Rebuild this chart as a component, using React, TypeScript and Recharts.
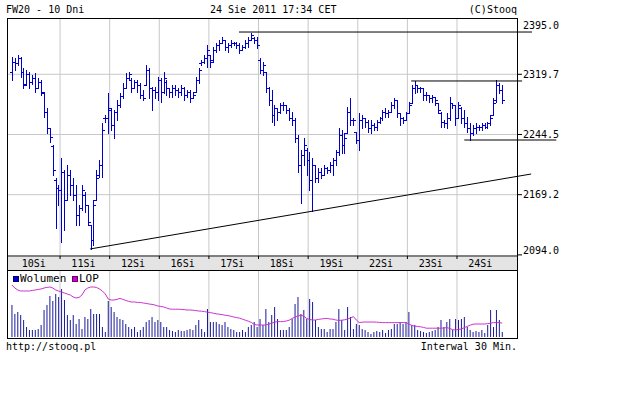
import React from 'react';
import { ComposedChart, Bar, Line, XAxis, YAxis, CartesianGrid, ReferenceLine } from 'recharts';

// FW20, 10 sessions, 30 min bars (17 per session, last session 16)
const dayLabels = ['10Si', '11Si', '12Si', '16Si', '17Si', '18Si', '19Si', '22Si', '23Si', '24Si'];
const BARS_PER_DAY = 17;

const highs = [
  2341, 2340, 2344, 2341, 2328, 2325, 2323, 2319, 2321, 2315, 2313, 2298, 2278, 2253, 2231, 2190, 2181,
  2215, 2200, 2206, 2200, 2190, 2181, 2156, 2181, 2173, 2156, 2131, 2163, 2200, 2213, 2259, 2269, 2296,
  2278, 2275, 2288, 2296, 2309, 2321, 2323, 2315, 2313, 2313, 2309, 2300, 2331, 2328, 2304, 2304, 2316,
  2315, 2323, 2313, 2303, 2306, 2306, 2303, 2306, 2304, 2300, 2300, 2298, 2316, 2328, 2338, 2344, 2356,
  2344, 2354, 2359, 2363, 2366, 2363, 2359, 2363, 2360, 2360, 2359, 2356, 2363, 2366, 2371, 2366, 2366,
  2340, 2335, 2323, 2304, 2300, 2281, 2278, 2284, 2285, 2281, 2278, 2273, 2265, 2244, 2225, 2240, 2228,
  2223, 2215, 2206, 2203, 2203, 2206, 2204, 2210, 2215, 2225, 2253, 2250, 2246, 2279, 2290, 2265, 2248,
  2271, 2269, 2265, 2263, 2263, 2259, 2263, 2266, 2275, 2278, 2275, 2285, 2290, 2288, 2271, 2266, 2273,
  2285, 2306, 2311, 2306, 2304, 2303, 2298, 2294, 2294, 2291, 2284, 2273, 2263, 2271, 2291, 2284, 2281,
  2285, 2279, 2275, 2266, 2259, 2256, 2259, 2256, 2259, 2259, 2260, 2269, 2290, 2313, 2309, 2306,
];
const lows = [
  2312, 2325, 2331, 2316, 2303, 2306, 2303, 2308, 2298, 2303, 2294, 2266, 2246, 2235, 2194, 2128, 2156,
  2110, 2125, 2163, 2169, 2163, 2131, 2131, 2150, 2148, 2131, 2101, 2106, 2163, 2191, 2191, 2260, 2246,
  2250, 2240, 2263, 2279, 2290, 2303, 2313, 2298, 2303, 2298, 2290, 2288, 2306, 2290, 2275, 2290, 2288,
  2285, 2296, 2294, 2291, 2291, 2294, 2291, 2294, 2288, 2291, 2285, 2290, 2298, 2309, 2331, 2334, 2329,
  2329, 2335, 2348, 2350, 2359, 2350, 2348, 2354, 2356, 2353, 2346, 2350, 2353, 2354, 2363, 2359, 2353,
  2321, 2319, 2298, 2281, 2260, 2256, 2263, 2271, 2275, 2271, 2263, 2256, 2235, 2198, 2159, 2206, 2194,
  2175, 2149, 2185, 2185, 2190, 2194, 2196, 2198, 2194, 2206, 2219, 2221, 2221, 2246, 2256, 2256, 2234,
  2225, 2253, 2254, 2248, 2246, 2250, 2250, 2259, 2263, 2266, 2266, 2273, 2278, 2266, 2256, 2259, 2263,
  2271, 2284, 2296, 2298, 2298, 2288, 2288, 2285, 2285, 2281, 2271, 2254, 2254, 2253, 2263, 2278, 2256,
  2265, 2259, 2254, 2248, 2238, 2244, 2246, 2250, 2250, 2253, 2253, 2256, 2269, 2285, 2296, 2284,
];
const opens = [
  2322, 2335, 2334, 2340, 2323, 2307, 2320, 2310, 2315, 2303, 2310, 2296, 2273, 2253, 2230, 2188, 2178,
  2175, 2198, 2163, 2194, 2181, 2169, 2144, 2153, 2169, 2156, 2131, 2112, 2163, 2194, 2206, 2265, 2265,
  2275, 2256, 2273, 2281, 2293, 2303, 2315, 2313, 2303, 2310, 2306, 2294, 2306, 2325, 2303, 2300, 2298,
  2313, 2298, 2310, 2303, 2298, 2303, 2300, 2298, 2303, 2294, 2298, 2290, 2298, 2313, 2334, 2335, 2340,
  2344, 2338, 2350, 2356, 2359, 2363, 2354, 2356, 2359, 2359, 2356, 2350, 2354, 2359, 2363, 2365, 2363,
  2338, 2325, 2323, 2303, 2288, 2269, 2278, 2273, 2281, 2281, 2275, 2265, 2263, 2240, 2206, 2219, 2225,
  2213, 2188, 2206, 2190, 2198, 2194, 2203, 2200, 2206, 2213, 2223, 2244, 2231, 2246, 2273, 2263, 2248,
  2238, 2263, 2265, 2260, 2253, 2256, 2254, 2260, 2265, 2273, 2271, 2273, 2281, 2288, 2271, 2265, 2263,
  2271, 2284, 2303, 2306, 2303, 2303, 2294, 2294, 2290, 2291, 2284, 2271, 2260, 2259, 2265, 2284, 2281,
  2265, 2278, 2265, 2259, 2253, 2246, 2253, 2254, 2254, 2256, 2254, 2259, 2269, 2288, 2306, 2300,
];
const closes = [
  2335, 2334, 2340, 2323, 2306, 2320, 2310, 2315, 2303, 2310, 2298, 2273, 2253, 2241, 2200, 2178, 2175,
  2198, 2163, 2194, 2181, 2169, 2144, 2153, 2175, 2156, 2135, 2112, 2156, 2190, 2206, 2250, 2265, 2278,
  2256, 2273, 2281, 2293, 2303, 2315, 2320, 2303, 2310, 2306, 2294, 2290, 2325, 2303, 2300, 2298, 2313,
  2298, 2315, 2303, 2298, 2303, 2300, 2298, 2303, 2294, 2298, 2290, 2294, 2313, 2325, 2335, 2340, 2350,
  2335, 2350, 2356, 2359, 2363, 2354, 2356, 2359, 2359, 2356, 2350, 2354, 2359, 2363, 2369, 2363, 2356,
  2325, 2331, 2303, 2288, 2269, 2278, 2273, 2281, 2281, 2275, 2265, 2263, 2240, 2206, 2219, 2231, 2213,
  2188, 2206, 2190, 2198, 2194, 2203, 2200, 2206, 2213, 2223, 2244, 2231, 2240, 2273, 2263, 2263, 2238,
  2263, 2265, 2260, 2253, 2256, 2254, 2260, 2265, 2273, 2271, 2273, 2281, 2288, 2271, 2265, 2263, 2271,
  2281, 2303, 2306, 2303, 2303, 2294, 2294, 2290, 2291, 2288, 2275, 2260, 2259, 2265, 2284, 2281, 2265,
  2281, 2265, 2259, 2253, 2246, 2253, 2254, 2254, 2256, 2254, 2259, 2265, 2284, 2306, 2300, 2288,
];
// volume in hundreds of contracts
const volumes = [
  32, 23, 25, 22, 17, 10, 7, 7, 7, 8, 12, 27, 32, 41, 36, 43, 40,
  48, 37, 22, 17, 22, 13, 18, 8, 20, 18, 28, 23, 23, 23, 10, 5, 36,
  30, 25, 20, 18, 17, 13, 10, 8, 10, 5, 7, 10, 15, 17, 20, 15, 17,
  15, 10, 10, 7, 6, 5, 7, 6, 6, 7, 8, 7, 12, 17, 8, 5, 28,
  15, 15, 15, 13, 12, 15, 10, 8, 7, 5, 5, 7, 5, 10, 12, 15, 10,
  18, 12, 28, 15, 22, 30, 18, 7, 7, 7, 10, 18, 33, 40, 23, 27, 18,
  38, 35, 17, 10, 8, 8, 5, 8, 8, 15, 28, 17, 7, 30, 20, 8, 13,
  12, 8, 7, 5, 3, 5, 6, 5, 7, 4, 7, 8, 13, 13, 15, 13, 15,
  25, 12, 12, 7, 6, 5, 4, 5, 6, 7, 10, 17, 10, 15, 18, 7, 18,
  17, 18, 20, 10, 7, 5, 6, 5, 7, 4, 12, 27, 10, 27, 17, 5,
];
// open interest (LOP), thousands
const lopValues = [
  126.0, 124.5, 123.5, 123.0, 123.0, 123.0, 123.0, 123.3, 123.5, 123.8, 124.0, 124.5, 124.8, 125.0, 124.5, 123.5, 123.0,
  122.5, 122.0, 121.5, 121.0, 120.0, 119.5, 119.8, 121.0, 123.5, 124.5, 125.0, 125.0, 124.8, 124.0, 123.0, 121.5, 119.0,
  118.5, 118.5, 118.8, 119.3, 118.8, 118.3, 117.8, 117.5, 117.5, 117.3, 117.3, 117.0, 116.8, 116.5, 116.3, 116.0, 115.5,
  115.3, 115.0, 114.5, 114.0, 113.9, 113.9, 113.9, 113.8, 113.7, 113.5, 113.5, 113.4, 113.2, 113.0, 112.9, 112.7, 112.4,
  112.2, 111.9, 111.6, 111.4, 111.2, 110.9, 110.7, 110.4, 110.0, 109.7, 109.4, 108.9, 108.4, 107.9, 107.3, 106.3, 106.0,
  106.0, 106.0, 106.0, 106.4, 106.9, 107.4, 107.7, 107.7, 107.7, 108.0, 108.4, 109.3, 109.9, 110.5, 110.9, 110.4, 109.3,
  108.8, 108.5, 108.5, 108.8, 109.0, 109.2, 109.3, 109.0, 108.9, 108.5, 108.3, 108.4, 108.6, 109.0, 109.5, 110.2, 108.5,
  107.2, 107.4, 107.5, 107.5, 107.5, 107.5, 107.4, 107.3, 107.2, 107.2, 107.2, 107.2, 107.2, 107.2, 107.2, 107.2, 107.2,
  106.5, 105.8, 105.4, 105.3, 105.1, 104.8, 104.4, 104.4, 104.4, 104.4, 104.4, 104.4, 104.5, 104.7, 104.3, 103.7, 103.5,
  103.8, 104.0, 104.7, 105.3, 105.9, 106.4, 106.5, 106.5, 106.5, 106.5, 106.7, 106.9, 107.2, 107.2, 107.2, 107.0,
];

const priceTicks = [2094, 2169.25, 2244.5, 2319.75, 2395];
const priceGrid = [2169.25, 2244.5, 2319.75];
// drawn analysis lines, bar index / price
const trendLines = [
  { x1: 77.8, y1: 2372.6, x2: 178.2, y2: 2372.6 },
  { x1: 136.8, y1: 2311.4, x2: 174.8, y2: 2311.4 },
  { x1: 155, y1: 2237.6, x2: 186.5, y2: 2237.6 },
  { x1: 26.8, y1: 2101.4, x2: 177.9, y2: 2195.1 },
];

const data = highs.map((h, i) => ({
  i,
  high: h,
  low: lows[i],
  open: opens[i],
  close: closes[i],
  vol: volumes[i],
  lop: lopValues[i],
}));

const X_DOMAIN: [number, number] = [-1.68, 173.4];
const boundaries = dayLabels.slice(1).map((_, d) => (d + 1) * BARS_PER_DAY - 0.5);
const labelTicks = dayLabels.map((_, d) => d * BARS_PER_DAY + 7.5);
const xTicks = [...labelTicks, ...boundaries].sort((a, b) => a - b);

const MONO = "'DejaVu Sans Mono', monospace";
const BAR_BLUE = '#0000cc';
const GRID = '#c8c8c8';

const OhlcBar = (props: any) => {
  const { x, y, width, height } = props;
  const p = props.payload || props;
  const top = Math.min(y, y + height);
  const h = Math.abs(height);
  const span = p.high - p.low;
  const py = (v: number) => Math.round(span > 0 ? top + ((p.high - v) / span) * h : top) + 0.5;
  const cx = Math.round(x + width / 2) + 0.5;
  return (
    <g stroke={BAR_BLUE} strokeWidth={1}>
      <line x1={cx} x2={cx} y1={Math.round(top)} y2={Math.round(top + h) + 1} />
      <line x1={cx - 2.5} x2={cx} y1={py(p.open)} y2={py(p.open)} />
      <line x1={cx} x2={cx + 2.5} y1={py(p.close)} y2={py(p.close)} />
    </g>
  );
};

const DayTick = (props: any) => {
  const { x, y, payload } = props;
  const v = payload.value;
  if (boundaries.includes(v)) {
    return <line x1={x} x2={x} y1={y} y2={y + 3} stroke="#000" />;
  }
  const d = Math.round((v - 7.5) / BARS_PER_DAY);
  return (
    <text x={x} y={y + 7.5} textAnchor="middle" dominantBaseline="central" fontSize={10} fontFamily={MONO} fill="#000">
      {dayLabels[d]}
    </text>
  );
};

const PriceTick = (props: any) => {
  const { x, y, payload } = props;
  const v = payload.value;
  // top and bottom labels are pushed inside the frame
  const dy = v === 2395 ? 11 : v === 2094 ? -4 : 0;
  return (
    <text x={x} y={y + dy} textAnchor="start" dominantBaseline="central" fontSize={10} fontFamily={MONO} fill="#000">
      {(Math.floor(v * 10) / 10).toFixed(1)}
    </text>
  );
};

const txt = (extra: React.CSSProperties): React.CSSProperties => ({
  position: 'absolute',
  fontFamily: MONO,
  fontSize: 10,
  lineHeight: '12px',
  color: '#000',
  whiteSpace: 'pre',
  ...extra,
});

export default function App() {
  return (
    <div style={{ position: 'absolute', left: 0, top: 0, width: 640, height: 400, background: '#fff', overflow: 'hidden' }}>
      {/* grey date band */}
      <div style={{ position: 'absolute', left: 8, top: 257, width: 509, height: 13, background: '#e4e4e4' }} />

      {/* price chart */}
      <div style={{ position: 'absolute', left: 0, top: 0 }}>
        <ComposedChart width={640} height={272} data={data} margin={{ top: 14.1, right: 62, bottom: 2, left: 7 }}>
          <CartesianGrid stroke={GRID} horizontalValues={priceGrid} verticalValues={boundaries} />
          <XAxis
            dataKey="i"
            type="number"
            domain={X_DOMAIN}
            ticks={xTicks}
            interval={0}
            height={14}
            tickLine={false}
            tickSize={0}
            tickMargin={0}
            axisLine={{ stroke: '#000' }}
            tick={DayTick}
          />
          <YAxis
            orientation="right"
            type="number"
            domain={[2092.6, 2395]}
            ticks={priceTicks}
            interval={0}
            width={60}
            axisLine={false}
            tickLine={{ stroke: '#000' }}
            tickSize={4}
            tickMargin={1}
            tick={PriceTick}
          />
          <Bar dataKey={(d: any) => [d.low, d.high]} barSize={3} shape={OhlcBar} isAnimationActive={false} />
          {trendLines.map((t, k) => (
            <ReferenceLine
              key={k}
              segment={[{ x: t.x1, y: t.y1 }, { x: t.x2, y: t.y2 }]}
              stroke="#000"
              strokeWidth={1}
              ifOverflow="visible"
            />
          ))}
        </ComposedChart>
      </div>

      {/* white strip above the frame */}
      <div style={{ position: 'absolute', left: 0, top: 0, width: 530, height: 18, background: '#fff' }} />

      {/* volume + LOP panel */}
      <div style={{ position: 'absolute', left: 0, top: 262 }}>
        <ComposedChart width={640} height={80} data={data} margin={{ top: 9, right: 122, bottom: 5, left: 7 }}>
          <CartesianGrid stroke={GRID} horizontal={false} verticalValues={boundaries} />
          <XAxis dataKey="i" type="number" domain={X_DOMAIN} hide />
          <YAxis yAxisId="v" domain={[0, 66]} hide />
          <YAxis yAxisId="lop" domain={[100, 133]} hide />
          <Bar yAxisId="v" dataKey="vol" barSize={1} fill="#1a1a9a" isAnimationActive={false} />
          <Line yAxisId="lop" dataKey="lop" type="linear" stroke="#cc33cc" strokeWidth={1} dot={false} isAnimationActive={false} />
        </ComposedChart>
      </div>

      {/* frames */}
      <div style={{ position: 'absolute', left: 7, top: 18, width: 511, height: 253, border: '1px solid #000', boxSizing: 'border-box' }} />
      <div style={{ position: 'absolute', left: 7, top: 270, width: 511, height: 69, border: '1px solid #000', boxSizing: 'border-box' }} />

      {/* legend */}
      <div style={{ position: 'absolute', left: 13, top: 276, width: 6, height: 6, background: '#0000cc', border: '1px solid #000066', boxSizing: 'border-box' }} />
      <div style={txt({ left: 20, top: 273, fontSize: 11 })}>Wolumen</div>
      <div style={{ position: 'absolute', left: 72, top: 276, width: 6, height: 6, background: '#cc00cc', border: '1px solid #660066', boxSizing: 'border-box' }} />
      <div style={txt({ left: 79, top: 273, fontSize: 11 })}>LOP</div>

      {/* header / footer */}
      <div style={txt({ left: 6, top: 4 })}>FW20 - 10 Dni</div>
      <div style={txt({ left: 210, top: 4 })}>24 Sie 2011 17:34 CET</div>
      <div style={txt({ left: 417, top: 4, width: 100, textAlign: 'right' })}>(C)Stooq</div>
      <div style={txt({ left: 6, top: 341 })}>http://stooq.pl</div>
      <div style={txt({ left: 317, top: 341, width: 200, textAlign: 'right' })}>Interwal 30 Min.</div>
    </div>
  );
}
